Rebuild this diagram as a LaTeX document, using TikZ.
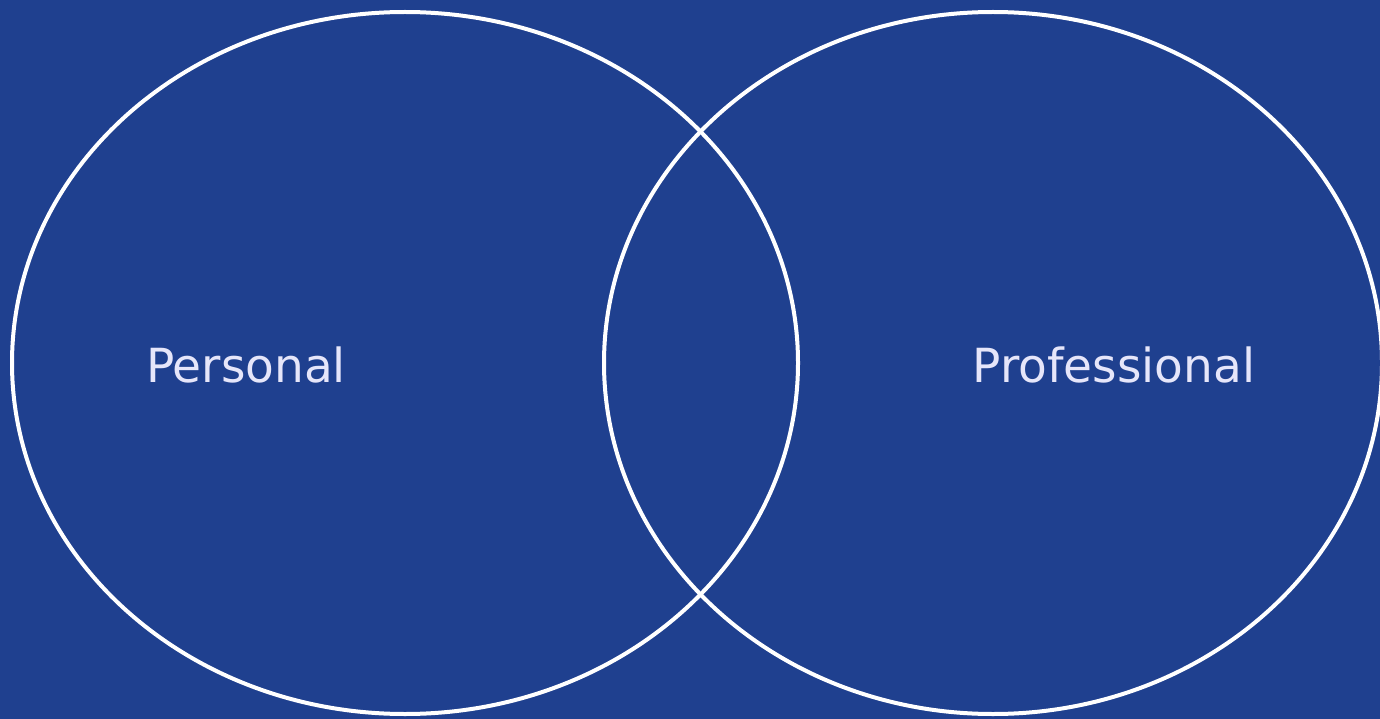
\documentclass[tikz,border=0pt]{standalone}
\usepackage{fontspec}
\setmainfont{DejaVu Sans}
\usetikzlibrary{shapes.geometric}
\definecolor{bgblue}{RGB}{31,64,143}
\definecolor{labeltxt}{RGB}{230,230,250}
\tikzset{
  venn/.style={ellipse, draw=white, line width=4pt, inner sep=0pt, minimum width=786pt, minimum height=702pt},
  vlabel/.style={text=labeltxt, anchor=base, inner sep=0pt, font=\fontsize{47}{56}\selectfont}
}
\begin{document}
\begin{tikzpicture}[x=1pt,y=-1pt]
\fill[bgblue] (0,0) rectangle (1380,719);
\useasboundingbox (0,0) rectangle (1380,719);
\node[venn] (personal) at (405,363) {};
\node[venn, minimum width=778pt] (professional) at (993,363) {};
\node[vlabel] (lp) at (246,382) {Personal};
\node[vlabel] (lq) at (1114,382) {Professional};
\end{tikzpicture}
\end{document}
